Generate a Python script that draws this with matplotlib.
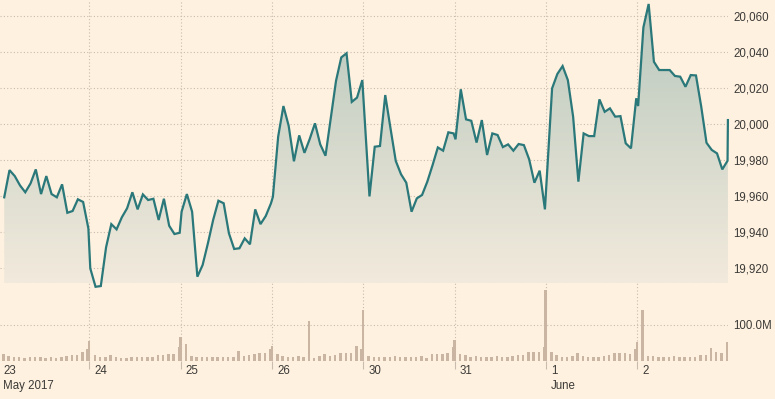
import numpy as np
import matplotlib.pyplot as plt
from matplotlib.patches import Polygon
from matplotlib.colors import LinearSegmentedColormap

plt.rcParams['font.family'] = ['Liberation Sans', 'DejaVu Sans']

# trading days shown on the x axis
days = ['23', '24', '25', '26', '30', '31', '1', '2']
months = {0: 'May 2017', 6: 'June'}

# intraday index level, one list per trading day
price_23 = [19959.3, 19974.4, 19971.1, 19965.9, 19962.1, 19967.0, 19974.8, 19961.1, 19971.1,
            19961.1, 19959.3, 19966.5, 19950.7, 19951.7, 19958.2, 19956.7, 19942.0]
price_24 = [19919.8, 19909.6, 19910.0, 19931.5, 19944.4, 19941.5, 19948.2, 19953.2, 19962.1,
            19952.6, 19960.9, 19957.8, 19958.5, 19946.7, 19958.5, 19943.5, 19938.9, 19939.6]
price_25 = [19951.3, 19961.1, 19951.3, 19915.2, 19921.7, 19933.7, 19946.7, 19957.4, 19956.0,
            19939.3, 19930.6, 19931.0, 19936.5, 19933.2, 19952.6, 19944.4, 19948.9, 19956.0]
price_26 = [19959.6, 19993.0, 20010.0, 19999.0, 19979.3, 19993.7, 19984.0, 19991.7, 20000.4,
            19988.7, 19982.4, 20003.2, 20024.0, 20037.0, 20039.3, 20012.3, 20014.7, 20024.4]
price_30 = [19959.8, 19987.4, 19987.8, 20016.1, 19997.6, 19979.5, 19972.1, 19967.4, 19951.3,
            19958.7, 19960.6, 19968.0, 19977.2, 19987.0, 19985.2, 19995.4, 19994.8]
price_31 = [19991.5, 20019.3, 20002.6, 20001.8, 19989.7, 20002.2, 19982.8, 19994.8, 19993.9,
            19987.2, 19988.7, 19985.2, 19988.9, 19988.3, 19980.4, 19967.4, 19974.1, 19952.6]
price_1 = [20019.8, 20027.8, 20032.2, 20024.4, 20004.1, 19968.0, 19994.8, 19993.3, 19993.3,
           20013.7, 20006.8, 20008.7, 20004.1, 20004.4, 19989.3, 19986.5, 20014.3]
price_2 = [20010.0, 20053.7, 20066.7, 20034.6, 20030.0, 20030.0, 20030.0, 20026.7, 20026.3,
           20020.7, 20027.2, 20027.0, 20009.6, 19989.6, 19985.6, 19983.7, 19974.8, 19979.6]
last_trade = 20002.2
prices = [price_23, price_24, price_25, price_26, price_30, price_31, price_1, price_2]

# volume in millions; the 18th value of a day is the closing auction
vol_23 = [18.7, 13, 9.4, 9.4, 8.4, 9.4, 9.4, 9.4, 8.4, 9.4, 8.4, 11, 13, 15, 17, 24, 33, 55]
vol_24 = [15, 9.4, 9.4, 15, 10, 8.4, 8.4, 9.4, 9.4, 9.4, 9.4, 10, 15, 15, 18, 19, 39, 65]
vol_25 = [48, 13, 11, 11, 11, 9.4, 9.4, 9.4, 9.4, 9.4, 27, 13, 17, 19, 21, 21, 33, 41]
vol_26 = [19, 13, 11, 11, 13, 9.4, 111, 8.4, 13, 19, 13, 17, 21, 22, 22, 41, 33, 142]
vol_30 = [13, 11, 9.4, 9.4, 9.4, 13, 9.4, 9.4, 9.4, 9.4, 13, 8.4, 19, 19, 19, 22, 39, 58]
vol_31 = [19, 15, 9.4, 13, 11, 11, 11, 13, 11, 9.4, 13, 15, 15, 23, 25, 25, 39, 198]
vol_1 = [25, 15, 11, 11, 13, 22, 13, 11, 9.4, 11, 13, 16, 22, 22, 22, 20, 32, 53]
vol_2 = [142, 13, 13, 11, 11, 9.4, 13, 11, 9.4, 9.4, 11, 15, 17, 35, 25, 22, 52]
volumes = [vol_23, vol_24, vol_25, vol_26, vol_30, vol_31, vol_1, vol_2]

price_ticks = [19920, 19940, 19960, 19980, 20000, 20020, 20040, 20060]
vol_ticks = [100.0]

BG = '#fff1e0'
LINE = '#2a787a'
GRID = '#c9bcae'
BAR = '#c9b5a2'
TEXT = '#3b3a37'
STEP = 0.0576

xs, ys = [], []
for d, vals in enumerate(prices):
    n = len(vals)
    xs += [d + 0.99 - STEP * (n - 1 - k) for k in range(n)]
    ys += vals
xs.append(xs[-1] + 0.004)
ys.append(last_trade)

vx, vy = [], []
for d, vols in enumerate(volumes):
    regular = vols[:17]
    vx += [d + 0.06 + STEP * k for k in range(len(regular))]
    vy += regular
    if len(vols) > 17:
        vx.append(d + 0.998)
        vy.append(vols[17])

fig = plt.figure(figsize=(7.75, 3.99), dpi=100, facecolor=BG)
W = 728 / 775
ax = fig.add_axes([0, 1 - 283 / 399, W, 283 / 399])
axv = fig.add_axes([0, 1 - 360.7 / 399, W, 77.7 / 399])
ax.set_zorder(2)
xlim = (0.022, 7.995)
ylim = (19911.7, 20068.9)

for a in (ax, axv):
    a.set_facecolor(BG)
    a.set_xlim(*xlim)
    for s in a.spines.values():
        s.set_visible(False)
    a.yaxis.tick_right()
    a.tick_params(axis='y', length=0, pad=4, labelsize=8.3, labelcolor=TEXT)
    for d in range(1, len(days)):
        a.axvline(d, color=GRID, lw=0.8, ls=(0, (1, 2)), zorder=0)

# price panel
ax.set_ylim(*ylim)
ax.set_xticks([])
ax.set_yticks(price_ticks)
ax.set_yticklabels([f'{v:,.0f}' for v in price_ticks])
for v in price_ticks:
    ax.axhline(v, color=GRID, lw=0.8, ls=(0, (1, 2)), zorder=0)

cmap = LinearSegmentedColormap.from_list('fill', ['#b8c8bd', '#f2eadc'])
grad = np.linspace(0, 1, 256).reshape(-1, 1)
img = ax.imshow(grad, cmap=cmap, aspect='auto', origin='upper',
                extent=[xlim[0], xlim[1], ylim[0], ylim[1]],
                zorder=1, interpolation='bilinear')
poly = Polygon(list(zip(xs, ys)) + [(xs[-1], ylim[0]), (xs[0], ylim[0])], closed=True,
               transform=ax.transData, facecolor='none', edgecolor='none')
ax.add_patch(poly)
img.set_clip_path(poly)
ax.plot(xs, ys, color=LINE, lw=1.6, zorder=3, clip_on=False, solid_joinstyle='miter')

# volume panel
axv.set_ylim(0, 217.6)
axv.bar(vx, vy, width=0.027, color=BAR, zorder=2, align='center')
axv.set_yticks(vol_ticks)
axv.set_yticklabels([f'{v:.1f}M' for v in vol_ticks])
for v in vol_ticks:
    axv.axhline(v, color=GRID, lw=0.8, ls=(0, (1, 2)), zorder=0)
axv.set_xticks(range(1, len(days)))
axv.set_xticklabels([])
axv.tick_params(axis='x', length=6, width=0.8, color=GRID, direction='out')

for d, lab in enumerate(days):
    axv.text(d + 0.055, -0.13, lab, transform=axv.get_xaxis_transform(),
             ha='left', va='center', fontsize=8.3, color=TEXT)
for d, lab in months.items():
    axv.text(d + 0.055, -0.33, lab, transform=axv.get_xaxis_transform(),
             ha='left', va='center', fontsize=8.3, color=TEXT)

fig.savefig('out.png', dpi=100, facecolor=BG)
